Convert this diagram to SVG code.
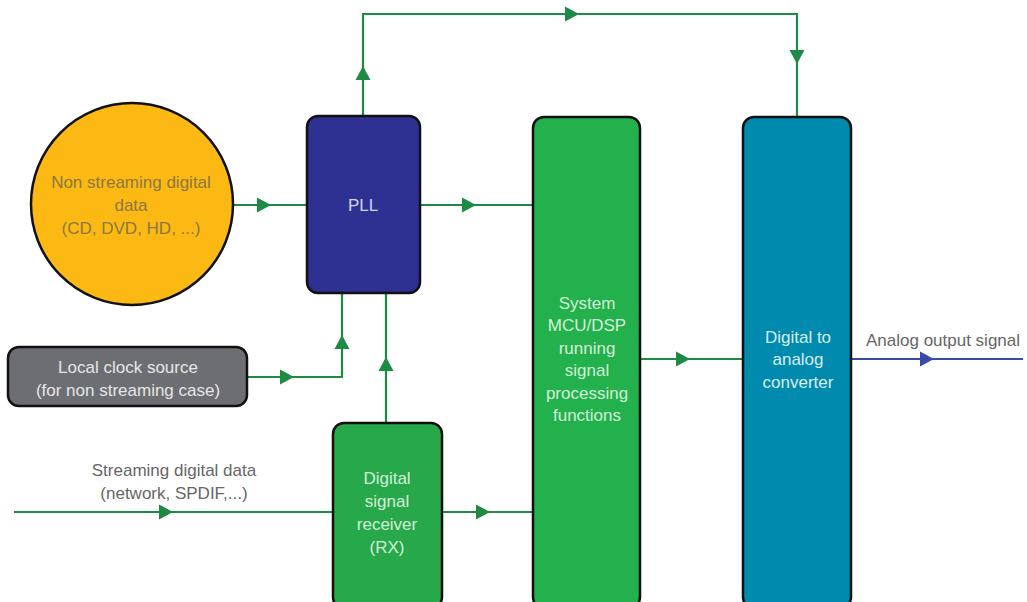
<svg xmlns="http://www.w3.org/2000/svg" xmlns:xlink="http://www.w3.org/1999/xlink" width="1027" height="602" viewBox="0 0 1027 602">
  <defs>
    <style>
      .box { stroke: #111; stroke-width: 2.5; }
      .wire { fill: none; stroke: #1e8b45; stroke-width: 2.2; }
      .wire-out { fill: none; stroke: #3a4aa8; stroke-width: 2.2; }
      .lbl { font-family: "Liberation Sans", Arial, sans-serif; font-size: 17px; text-anchor: middle; }
      .side { font-family: "Liberation Sans", Arial, sans-serif; font-size: 17px; text-anchor: middle; fill: #666; }
    </style>
    <!-- arrowhead pointing along +x, tip at origin -->
    <polygon id="ah" points="0,0 -14,-7.5 -14,7.5" fill="#1e8b45"/>
    <polygon id="ahb" points="0,0 -14,-7.5 -14,7.5" fill="#3a4aa8"/>
  </defs>

  <rect width="1027" height="602" fill="#ffffff"/>

  <!-- connectors -->
  <g id="connectors">
    <!-- data source to PLL -->
    <path class="wire" d="M233,205 H307"/>
    <use xlink:href="#ah" transform="translate(271,205)"/>
    <!-- PLL clock up and over to DAC -->
    <path class="wire" d="M363,116 V14 H797 V117"/>
    <use xlink:href="#ah" transform="translate(363,66) rotate(-90)"/>
    <use xlink:href="#ah" transform="translate(579,14)"/>
    <use xlink:href="#ah" transform="translate(797,64) rotate(90)"/>
    <!-- PLL to MCU -->
    <path class="wire" d="M420,205 H533"/>
    <use xlink:href="#ah" transform="translate(476,205)"/>
    <!-- local clock to PLL -->
    <path class="wire" d="M247,377 H342 V293"/>
    <use xlink:href="#ah" transform="translate(294,377)"/>
    <use xlink:href="#ah" transform="translate(342,335) rotate(-90)"/>
    <!-- RX to PLL -->
    <path class="wire" d="M386,423 V293"/>
    <use xlink:href="#ah" transform="translate(386,357) rotate(-90)"/>
    <!-- streaming input to RX -->
    <path class="wire" d="M14,512 H333"/>
    <use xlink:href="#ah" transform="translate(173,512)"/>
    <!-- RX to MCU -->
    <path class="wire" d="M442,512 H533"/>
    <use xlink:href="#ah" transform="translate(490,512)"/>
    <!-- MCU to DAC -->
    <path class="wire" d="M640,359 H743"/>
    <use xlink:href="#ah" transform="translate(690,359)"/>
    <!-- analog output -->
    <path class="wire-out" d="M851,359 H1023"/>
    <use xlink:href="#ahb" transform="translate(934,359)"/>
  </g>

  <!-- source of non streaming data -->
  <g id="node-nonstream">
    <circle class="box" cx="132" cy="204" r="101" fill="#fdb913" stroke-width="2"/>
    <text class="lbl" fill="#8a7840" x="131" y="188">Non streaming digital</text>
    <text class="lbl" fill="#8a7840" x="131" y="211">data</text>
    <text class="lbl" fill="#8a7840" x="131" y="234">(CD, DVD, HD, ...)</text>
  </g>

  <g id="node-pll">
    <rect class="box" x="307" y="116" width="113" height="177" rx="11" fill="#2e3192"/>
    <text class="lbl" fill="#d4d4f4" x="363" y="211">PLL</text>
  </g>

  <g id="node-clock">
    <rect class="box" x="8" y="347" width="239" height="59" rx="11" fill="#6d6e71"/>
    <text class="lbl" fill="#e6e6e6" x="128" y="373">Local clock source</text>
    <text class="lbl" fill="#e6e6e6" x="128" y="396">(for non streaming case)</text>
  </g>

  <g id="node-stream-label">
    <text class="side" x="174" y="476">Streaming digital data</text>
    <text class="side" x="174" y="499">(network, SPDIF,...)</text>
  </g>

  <g id="node-rx">
    <rect class="box" x="333" y="423" width="109" height="185" rx="11" fill="#27a84a"/>
    <text class="lbl" fill="#d4f0d6" x="387" y="484">Digital</text>
    <text class="lbl" fill="#d4f0d6" x="387" y="507">signal</text>
    <text class="lbl" fill="#d4f0d6" x="387" y="530">receiver</text>
    <text class="lbl" fill="#d4f0d6" x="387" y="553">(RX)</text>
  </g>

  <g id="node-mcu">
    <rect class="box" x="533" y="117" width="107" height="491" rx="11" fill="#22b14c"/>
    <text class="lbl" fill="#d4f0d6" x="587" y="309">System</text>
    <text class="lbl" fill="#d4f0d6" x="587" y="331">MCU/DSP</text>
    <text class="lbl" fill="#d4f0d6" x="587" y="354">running</text>
    <text class="lbl" fill="#d4f0d6" x="587" y="376">signal</text>
    <text class="lbl" fill="#d4f0d6" x="587" y="399">processing</text>
    <text class="lbl" fill="#d4f0d6" x="587" y="421">functions</text>
  </g>

  <g id="node-dac">
    <rect class="box" x="743" y="117" width="108" height="491" rx="11" fill="#008aad"/>
    <text class="lbl" fill="#d8eef4" x="798" y="343">Digital to</text>
    <text class="lbl" fill="#d8eef4" x="798" y="365">analog</text>
    <text class="lbl" fill="#d8eef4" x="798" y="388">converter</text>
  </g>

  <g id="node-output-label">
    <text class="side" x="943" y="346" fill="#555">Analog output signal</text>
  </g>
</svg>
